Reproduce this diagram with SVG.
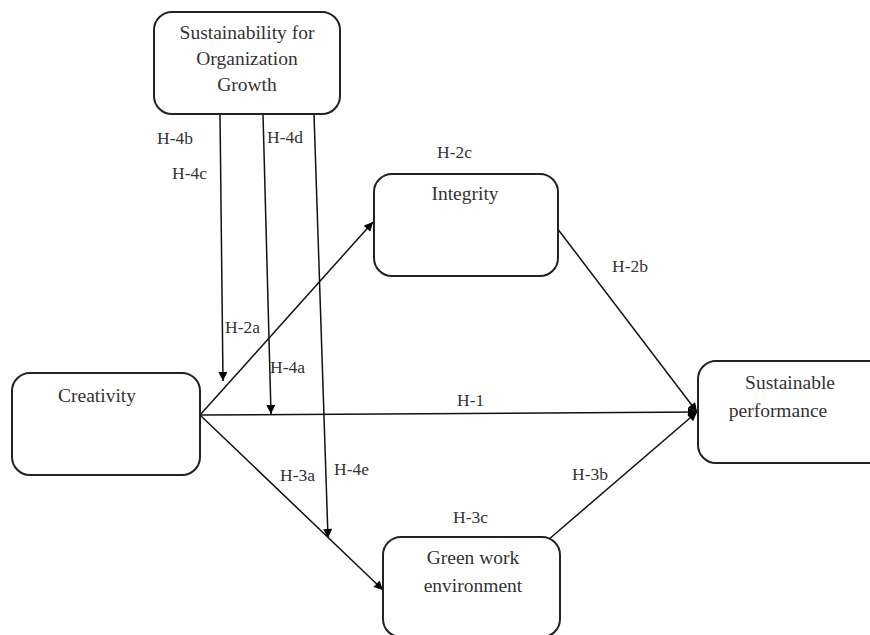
<svg xmlns="http://www.w3.org/2000/svg" width="870" height="635" viewBox="0 0 870 635">
<defs>
<marker id="ah" viewBox="0 0 10 10" refX="10" refY="5" markerWidth="10" markerHeight="9" markerUnits="userSpaceOnUse" orient="auto">
<path d="M0,0 L10,5 L0,10 z" fill="#000"/>
</marker>
<style>
.box{fill:#fff;stroke:#222;stroke-width:2}
.nt{font-family:"Liberation Serif",serif;font-size:19.5px;fill:#333;text-anchor:middle}
.lb{font-family:"Liberation Serif",serif;font-size:17.5px;fill:#333}
.ln{stroke:#111;stroke-width:1.5;fill:none}
.ar{stroke:#111;stroke-width:1.5;fill:none;marker-end:url(#ah)}
</style>
</defs>
<rect width="870" height="635" fill="#fff"/>
<g id="connectors">
<line class="ar" x1="220" y1="114" x2="223" y2="381"/>
<line class="ar" x1="263" y1="114" x2="271" y2="414"/>
<line class="ar" x1="314" y1="114" x2="328" y2="538"/>
<line class="ar" x1="200" y1="415" x2="373" y2="222"/>
<line class="ar" x1="200" y1="415" x2="697" y2="412"/>
<line class="ar" x1="200" y1="415" x2="383" y2="590"/>
<line class="ar" x1="557" y1="228" x2="697" y2="412"/>
<line class="ar" x1="548" y1="540" x2="697" y2="412"/>
</g>
<g id="labels">
<text class="lb" x="157" y="144">H-4b</text>
<text class="lb" x="172" y="179">H-4c</text>
<text class="lb" x="267" y="143">H-4d</text>
<text class="lb" x="225" y="333">H-2a</text>
<text class="lb" x="270" y="373">H-4a</text>
<text class="lb" x="457" y="406">H-1</text>
<text class="lb" x="437" y="158">H-2c</text>
<text class="lb" x="612" y="272">H-2b</text>
<text class="lb" x="280" y="481">H-3a</text>
<text class="lb" x="334" y="475">H-4e</text>
<text class="lb" x="572" y="480">H-3b</text>
<text class="lb" x="453" y="523">H-3c</text>
</g>
<g id="sog">
<rect class="box" x="154" y="12" width="186" height="102" rx="18"/>
<text class="nt" x="247" y="39">Sustainability for</text>
<text class="nt" x="247" y="65">Organization</text>
<text class="nt" x="247" y="91">Growth</text>
</g>
<g id="creativity">
<rect class="box" x="12" y="373" width="188" height="102" rx="18"/>
<text class="nt" x="97" y="402">Creativity</text>
</g>
<g id="integrity">
<rect class="box" x="374" y="174" width="184" height="102" rx="18"/>
<text class="nt" x="465" y="200">Integrity</text>
</g>
<g id="green">
<rect class="box" x="383" y="537" width="177" height="100" rx="18"/>
<text class="nt" x="473" y="564">Green work</text>
<text class="nt" x="473" y="592">environment</text>
</g>
<g id="sp">
<rect class="box" x="698" y="361" width="190" height="102" rx="18"/>
<text class="nt" x="790" y="389">Sustainable</text>
<text class="nt" x="778" y="417">performance</text>
</g>
</svg>
